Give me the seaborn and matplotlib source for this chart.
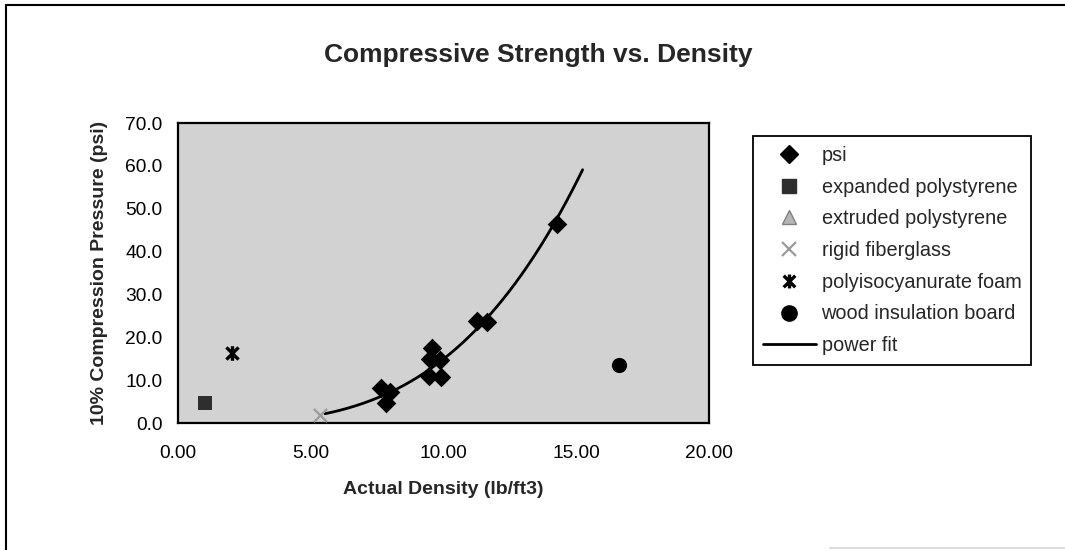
import numpy as np
import pandas as pd
import matplotlib
matplotlib.use("Agg")
import matplotlib.pyplot as plt
from matplotlib.lines import Line2D
from matplotlib.path import Path
import seaborn as sns

# values
psi_x = [7.64, 7.84, 7.97, 9.55, 9.5, 9.85, 9.45, 9.9, 11.28, 11.62, 14.26]
psi_y = [8.1, 4.6, 7.2, 17.6, 14.9, 14.7, 10.9, 10.7, 23.9, 23.5, 46.4]

eps_x = [1.01]
eps_y = [4.6]
xps_x = []          # extruded polystyrene: no visible point
xps_y = []
fiber_x = [5.35]
fiber_y = [1.9]
polyiso_x = [2.03]
polyiso_y = [16.4]
wood_x = [16.6]
wood_y = [13.65]

fit_range = [5.54, 15.24]

x_ticks = [0, 5, 10, 15, 20]
y_ticks = [0, 10, 20, 30, 40, 50, 60, 70]

sns.set_style("white")
plt.rcParams["font.family"] = ["Liberation Sans", "DejaVu Sans"]

# excel style asterisk marker: an x with a vertical bar
star = Path([(-1, -1), (1, 1), (-1, 1), (1, -1), (0, -1.2), (0, 1.2)],
            [Path.MOVETO, Path.LINETO, Path.MOVETO, Path.LINETO, Path.MOVETO, Path.LINETO])

fig = plt.figure(figsize=(10.65, 5.5), dpi=100)
ax = fig.add_axes([178 / 1065, 1 - 423 / 550, 531 / 1065, 300 / 550])
ax.set_facecolor("#d2d2d2")

df = pd.DataFrame({"x": psi_x, "y": psi_y})
sns.scatterplot(data=df, x="x", y="y", marker="D", s=100, color="black",
                edgecolor="black", linewidth=0, ax=ax, zorder=3)
sns.scatterplot(x=eps_x, y=eps_y, marker="s", s=115, color="#2e2e2e",
                edgecolor="#2e2e2e", linewidth=0, ax=ax, zorder=3)
sns.scatterplot(x=fiber_x, y=fiber_y, marker="x", s=90, color="#9a9a9a",
                linewidth=1.6, ax=ax, zorder=4)
sns.scatterplot(x=polyiso_x, y=polyiso_y, marker=star, s=110, color="black",
                edgecolor="black", linewidth=2.4, ax=ax, zorder=3)
sns.scatterplot(x=wood_x, y=wood_y, marker="o", s=120, color="black",
                edgecolor="black", linewidth=0, ax=ax, zorder=3)

# power fit y = a * x^b on the psi points
b, log_a = np.polyfit(np.log(psi_x), np.log(psi_y), 1)
fx = np.linspace(fit_range[0], fit_range[1], 200)
fy = np.exp(log_a) * fx ** b
sns.lineplot(x=fx, y=fy, color="black", linewidth=2, ax=ax, zorder=2)

ax.set_xlim(0, 20)
ax.set_ylim(0, 70)
ax.set_xticks(x_ticks)
ax.set_yticks(y_ticks)
ax.set_xticklabels([f"{v:.2f}" for v in x_ticks])
ax.set_yticklabels([f"{v:.1f}" for v in y_ticks])
ax.tick_params(axis="both", direction="inout", length=8, width=1.3,
               labelsize=13.8, colors="black")
ax.tick_params(axis="x", pad=12)
ax.tick_params(axis="y", pad=7)
for sp in ax.spines.values():
    sp.set_color("black")
    sp.set_linewidth(1.6)

ax.set_xlabel("Actual Density (lb/ft3)", fontsize=14, fontweight="bold")
ax.set_ylabel("10% Compression Pressure (psi)", fontsize=14, fontweight="bold")
ax.xaxis.set_label_coords(0.5, -(490 - 423) / 300)
ax.yaxis.set_label_coords(-(178 - 100) / 531, 0.5)
ax.xaxis.label.set_va("center")
ax.yaxis.label.set_va("center")

fig.text(538 / 1065, 1 - 55 / 550, "Compressive Strength vs. Density",
         ha="center", va="center", fontsize=19, fontweight="bold")

handles = [
    Line2D([], [], ls="", marker="D", ms=9.5, color="black"),
    Line2D([], [], ls="", marker="s", ms=10.5, color="#2e2e2e"),
    Line2D([], [], ls="", marker="^", ms=10, markerfacecolor="#b5b5b5",
           markeredgecolor="#808080"),
    Line2D([], [], ls="", marker="x", ms=10, color="#9a9a9a", mew=1.6),
    Line2D([], [], ls="", marker=star, ms=10, color="black", mew=2.4),
    Line2D([], [], ls="", marker="o", ms=11, color="black"),
    Line2D([], [], color="black", lw=2),
]
labels = ["psi", "expanded polystyrene", "extruded polystyrene", "rigid fiberglass",
          "polyisocyanurate foam", "wood insulation board", "power fit"]
leg = fig.legend(handles, labels, loc="upper left",
                 bbox_to_anchor=(753 / 1065, 1 - 136 / 550),
                 fontsize=14.3, frameon=True, fancybox=False, framealpha=1,
                 edgecolor="black", labelspacing=0.64, handlelength=2.65,
                 handletextpad=0.3, borderpad=0.5, borderaxespad=0)
leg.get_frame().set_linewidth(1.3)

# chart area border (left and top edges visible, faint bottom edge)
fig.add_artist(Line2D([6 / 1065, 6 / 1065], [0, 1 - 5 / 550], color="black", lw=1.5))
fig.add_artist(Line2D([6 / 1065, 1], [1 - 5 / 550, 1 - 5 / 550], color="black", lw=1.5))
fig.add_artist(Line2D([830 / 1065, 1], [2.5 / 550, 2.5 / 550], color="#dddddd", lw=1.5))

fig.savefig("out.png", dpi=100)
